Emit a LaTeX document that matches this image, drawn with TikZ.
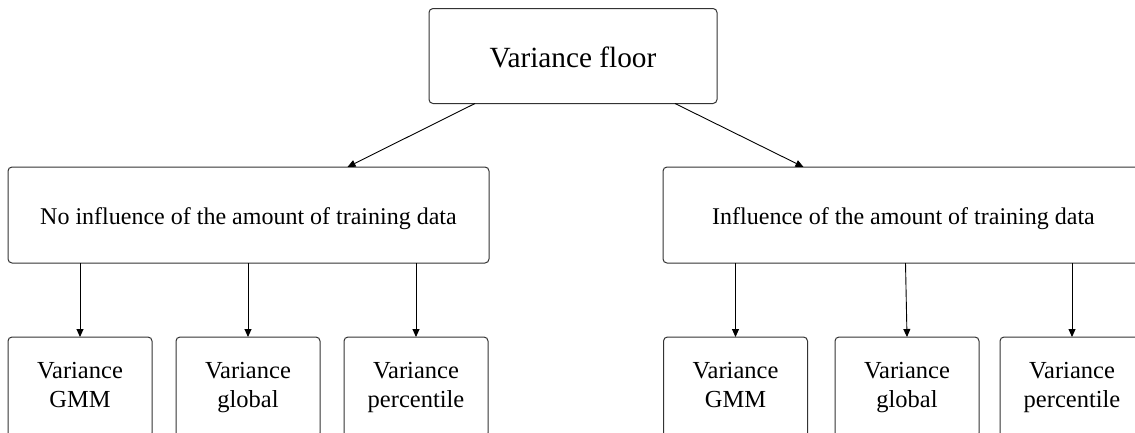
\documentclass[tikz,border=0pt]{standalone}
\usepackage{fontspec}
\setmainfont{Liberation Serif}
\usetikzlibrary{calc,arrows.meta}
\begin{document}
\begin{tikzpicture}[x=1pt,y=-1pt,
  box/.style={draw=black!80,line width=1pt,rounded corners=4pt,inner sep=0pt,outer sep=0pt,align=center},
  topbox/.style={box,minimum width=288pt,minimum height=95pt,text height=24pt,text depth=1pt,font=\fontsize{29.3}{34}\selectfont},
  midbox/.style={box,minimum width=481pt,minimum height=96pt,text height=21pt,text depth=3pt,font=\fontsize{24}{29}\selectfont},
  leafbox/.style={box,minimum width=144pt,minimum height=100pt,font=\fontsize{24.5}{29}\selectfont},
  link/.style={draw=black,line width=0.9pt,-{Triangle[length=8pt,width=7pt]}}]
\useasboundingbox (0,0) rectangle (1135,432);
\clip (0,0) rectangle (1135,432);
% root
\node[topbox] (root) at (573,56) {Variance floor};
% second level
\node[midbox] (nl) at (248.5,215) {No influence of the amount of training data};
\node[midbox] (wi) at (903.5,215) {Influence of the amount of training data};
% leaves
\node[leafbox] (nlg) at (80,387) {Variance\strut\\GMM\strut};
\node[leafbox] (nlb) at (248,387) {Variance\strut\\global\strut};
\node[leafbox] (nlp) at (416,387) {Variance\strut\\percentile\strut};
\node[leafbox] (wig) at (735.5,387) {Variance\strut\\GMM\strut};
\node[leafbox] (wib) at (907,387) {Variance\strut\\global\strut};
\node[leafbox] (wip) at (1072,387) {Variance\strut\\percentile\strut};
% connectors
\draw[link] ($(root.south)+(-98,0)$) -- ($(nl.north)+(99,0)$);
\draw[link] ($(root.south)+(102,0)$) -- ($(wi.north)+(-100,0)$);
\foreach \c in {nlg,nlb,nlp}{\draw[link] (nl.south -| \c.north) -- (\c.north);}
\draw[link] (wi.south -| wig.north) -- (wig.north);
\draw[link] ($(wi.south -| wib.north)+(-1.5,0)$) -- (wib.north);
\draw[link] (wi.south -| wip.north) -- (wip.north);
\end{tikzpicture}
\end{document}
